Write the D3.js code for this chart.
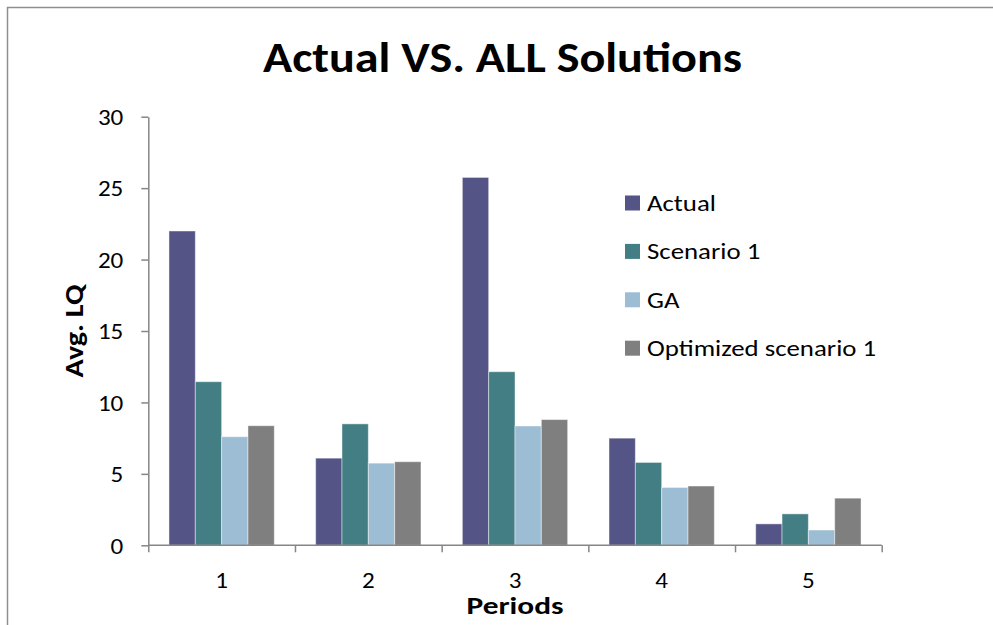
<!DOCTYPE html>
<html>
<head>
<meta charset="utf-8">
<script src="https://d3js.org/d3.v7.min.js"></script>
<style>
  body { margin: 0; background: #fff; }
  svg { display: block; }
</style>
</head>
<body>
<svg id="chart" width="993" height="625"></svg>
<script>
const periods = ["1", "2", "3", "4", "5"];
const seriesNames = ["Actual", "Scenario 1", "GA", "Optimized scenario 1"];
const actual = [22.0, 6.1, 25.75, 7.5, 1.5];
const scenario1 = [11.45, 8.5, 12.15, 5.8, 2.2];
const ga = [7.6, 5.75, 8.35, 4.05, 1.07];
const optimized = [8.37, 5.85, 8.8, 4.15, 3.3];
const seriesColors = ["#545486", "#427E83", "#9DBDD4", "#7F7F7F"];
const yTicks = [0, 5, 10, 15, 20, 25, 30];

const seriesValues = [actual, scenario1, ga, optimized];
const FONT = "Carlito, Calibri, Lato, 'Open Sans', sans-serif";

const svg = d3.select("#chart");
const W = 993, H = 625;
const m = { left: 148.3, right: W - 881.7, top: 116.7, bottom: H - 545.3 };

// horizontal stretch of text about its anchor point
function stretch(sel, sx) {
  sel.each(function () {
    const t = d3.select(this);
    const ax = +(t.attr("x") || 0);
    t.attr("transform", `translate(${ax},0) scale(${sx},1) translate(${-ax},0)`);
  });
}

// chart border
svg.append("rect")
  .attr("x", 7.5).attr("y", 7.5)
  .attr("width", W + 10).attr("height", H + 10)
  .attr("fill", "none").attr("stroke", "#8E8E8E").attr("stroke-width", 1.5);

const x0 = d3.scaleBand().domain(periods)
  .range([m.left, W - m.right]).paddingInner(0.282).paddingOuter(0.141);
const x1 = d3.scaleBand().domain(seriesNames).range([0, x0.bandwidth()]);
const y = d3.scaleLinear().domain([0, 30]).range([H - m.bottom, m.top]);

// bars
const groups = svg.append("g").selectAll("g").data(periods).join("g")
  .attr("transform", d => `translate(${x0(d)},0)`);
groups.selectAll("rect")
  .data((p, i) => seriesNames.map((s, j) => ({ s, j, v: seriesValues[j][i] })))
  .join("rect")
  .attr("x", d => x1(d.s))
  .attr("y", d => y(d.v))
  .attr("width", x1.bandwidth())
  .attr("height", d => y(0) - y(d.v))
  .attr("fill", d => seriesColors[d.j])
  .attr("stroke", "#ffffff").attr("stroke-opacity", 0.45).attr("stroke-width", 1);

// y axis
const yAxis = svg.append("g")
  .attr("transform", `translate(${m.left},0)`)
  .call(d3.axisLeft(y).tickValues(yTicks).tickSize(7).tickSizeOuter(0).tickPadding(18));
// x axis
const xOuter = d3.scalePoint().domain(d3.range(periods.length + 1)).range([m.left, W - m.right]);
const xAxisG = svg.append("g").attr("transform", `translate(0,${H - m.bottom})`);
xAxisG.call(d3.axisBottom(xOuter).tickSize(7).tickFormat(""));
xAxisG.select(".domain").attr("d", `M${m.left},0H${W - m.right}`);
const xLabels = svg.append("g").attr("transform", `translate(0,${H - m.bottom})`)
  .call(d3.axisBottom(x0).tickSize(0).tickPadding(27));
xLabels.select(".domain").remove();

svg.selectAll(".domain, .tick line").attr("stroke", "#868686").attr("stroke-width", 1.5);
svg.selectAll(".tick text").attr("font-family", FONT).attr("font-size", 22).attr("fill", "#000");
yAxis.selectAll(".tick text").attr("dy", "0.35em");
stretch(svg.selectAll(".tick text"), 1.14);

// title
svg.append("text")
  .attr("x", 502.5).attr("y", 72)
  .attr("text-anchor", "middle")
  .attr("font-family", FONT).attr("font-weight", "bold").attr("font-size", 42)
  .attr("textLength", 479).attr("lengthAdjust", "spacingAndGlyphs")
  .text("Actual VS. ALL Solutions");

// axis titles
svg.append("text")
  .attr("x", (m.left + W - m.right) / 2).attr("y", 614)
  .attr("text-anchor", "middle")
  .attr("font-family", FONT).attr("font-weight", "bold").attr("font-size", 24)
  .attr("textLength", 97).attr("lengthAdjust", "spacingAndGlyphs")
  .text("Periods");
svg.append("text")
  .attr("transform", `translate(83,${(m.top + H - m.bottom) / 2}) rotate(-90)`)
  .attr("text-anchor", "middle")
  .attr("font-family", FONT).attr("font-weight", "bold").attr("font-size", 26)
  .attr("textLength", 93).attr("lengthAdjust", "spacingAndGlyphs")
  .text("Avg. LQ");

// legend
const legend = svg.append("g").attr("transform", "translate(625,203)");
const li = legend.selectAll("g").data(seriesNames).join("g")
  .attr("transform", (d, i) => `translate(0,${i * 48.4})`);
li.append("rect").attr("x", 0).attr("y", -7.5).attr("width", 15).attr("height", 15)
  .attr("fill", (d, i) => seriesColors[i]);
const lt = li.append("text").attr("x", 22).attr("y", 0).attr("dy", "0.35em")
  .attr("font-family", FONT).attr("font-size", 22)
  .text(d => d);
stretch(lt, 1.22);
</script>
</body>
</html>
